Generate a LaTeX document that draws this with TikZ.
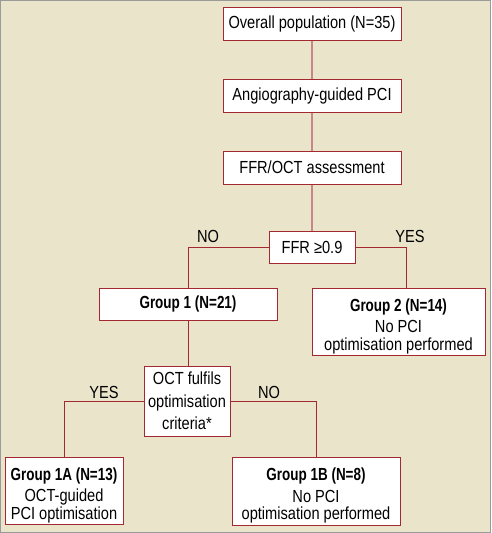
\documentclass[tikz,border=0pt]{standalone}
\usepackage{fontspec}
\setmainfont{Liberation Sans}[FakeStretch=0.835, BoldFeatures={FakeStretch=0.77}]
\definecolor{bg}{HTML}{EAE5CA}
\definecolor{boxred}{HTML}{A3282F}
\definecolor{linepink}{HTML}{C98585}
\definecolor{frame}{HTML}{9A9A9A}
\newcommand{\topstrut}{\rule{0pt}{22pt}}
\begin{document}
\begin{tikzpicture}[x=1pt,y=-1pt,
  box/.style={draw=boxred, line width=1pt, fill=white, inner sep=0pt, align=center,
    font=\fontsize{17.5}{17.5}\selectfont},
  conn/.style={draw=boxred, line width=1pt},
  connlight/.style={draw=linepink, line width=1.3pt},
  lbl/.style={font=\fontsize{17.5}{17.5}\selectfont, inner sep=0pt}]
\fill[bg, draw=frame, line width=1pt] (0.5,0.5) rectangle (490.5,532.5);
\useasboundingbox (0,0) rectangle (491,533);
\node[box, minimum width=178pt, minimum height=33pt] (pop) at (312,23.5) {Overall population (N=35)};
\node[box, minimum width=178pt, minimum height=33pt] (angio) at (312,95.5) {Angiography-guided PCI};
\node[box, minimum width=178pt, minimum height=33pt] (assess) at (312,167.5) {FFR/OCT assessment};
\node[box, minimum width=86pt, minimum height=32pt] (ffr) at (312,247) {FFR ≥0.9};
\node[box, minimum width=178pt, minimum height=32pt] (g1) at (188,304) {\textbf{Group 1 (N=21)}};
\node[box, minimum width=173pt, minimum height=67pt] (g2) at (398.5,321.5) {\topstrut\textbf{Group 2 (N=14)}\\[4pt]No PCI\\optimisation performed};
\node[box, minimum width=86pt, minimum height=70pt] (oct) at (187,401) {OCT fulfils\\[5pt]optimisation\\[5pt]criteria*};
\node[box, minimum width=118pt, minimum height=67pt] (g1a) at (64,490.5) {\topstrut\textbf{Group 1A (N=13)}\\[4pt]OCT-guided\\PCI optimisation};
\node[box, minimum width=168pt, minimum height=68pt] (g1b) at (316,491) {\topstrut\textbf{Group 1B (N=8)}\\[4pt]No PCI\\optimisation performed};
\draw[connlight] (pop.south) -- (angio.north);
\draw[connlight] (angio.south) -- (assess.north);
\draw[connlight] (assess.south) -- (ffr.north);
\draw[conn] (ffr.west) -| (g1.north);
\draw[conn] (ffr.east) -| ([xshift=7.5pt]g2.north);
\draw[conn] (g1.south) -- (g1.south |- oct.north);
\draw[conn] (oct.west) -| (g1a.north);
\draw[conn] (oct.east) -| (g1b.north);
\node[lbl] (no1) at (208,236) {NO};
\node[lbl] (yes1) at (410,236) {YES};
\node[lbl] (yes2) at (104,392) {YES};
\node[lbl] (no2) at (269,392) {NO};
\end{tikzpicture}
\end{document}
